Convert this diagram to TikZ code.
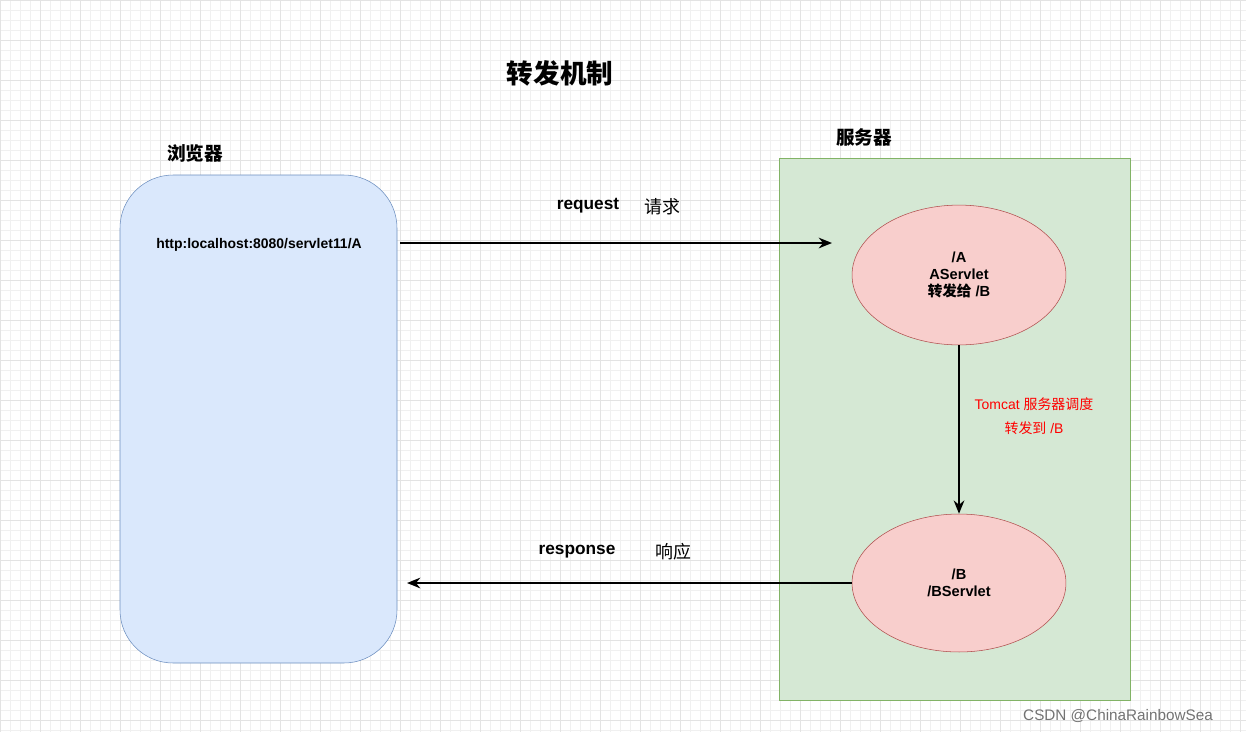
\documentclass[tikz,border=0pt]{standalone}
\usepackage{fontspec}
\setmainfont{Liberation Sans}
\newfontfamily\cjk{Noto Sans CJK SC}
\usetikzlibrary{arrows.meta,shapes.geometric}
\begin{document}
\begin{tikzpicture}[x=0.0264583cm,y=-0.0264583cm,
  arr/.style={line width=1.6pt,-{Stealth[length=10pt,width=8pt]}},
  ell/.style={ellipse,draw=red!55!black!70,fill={rgb,255:red,248;green,206;blue,204},minimum width=214\pgfkeysvalueof{/pgf/x}*0+5.66cm,minimum height=3.7cm,align=center,font=\bfseries\fontsize{11}{13}\selectfont,inner sep=0pt},
  lbl/.style={font=\bfseries\fontsize{13}{15}\selectfont}]
\useasboundingbox (0,0) rectangle (1246,732);
\fill[white] (0,0) rectangle (1246,732);
\foreach \i in {0,10,...,1246} \draw[black!6,line width=0.4pt] (\i,0) -- (\i,732);
\foreach \j in {0,10,...,732} \draw[black!6,line width=0.4pt] (0,\j) -- (1246,\j);
\foreach \i in {0,40,...,1246} \draw[black!11,line width=0.5pt] (\i,0) -- (\i,732);
\foreach \j in {0,40,...,732} \draw[black!11,line width=0.5pt] (0,\j) -- (1246,\j);
\node[font=\cjk\bfseries\fontsize{20}{24}\selectfont] (title) at (560,73) {转发机制};
\node[font=\cjk\bfseries\fontsize{14}{16}\selectfont] (bl) at (195,153) {浏览器};
\node[font=\cjk\bfseries\fontsize{14}{16}\selectfont] (sl) at (864,137) {服务器};
\draw[draw={rgb,255:red,108;green,142;blue,191},fill={rgb,255:red,218;green,232;blue,252},rounded corners=40] (120,175) rectangle (397,663);
\draw[draw={rgb,255:red,130;green,179;blue,102},fill={rgb,255:red,213;green,232;blue,212}] (779,158) rectangle (1130,700);
\node[font=\bfseries\fontsize{10.5}{12}\selectfont] (url) at (259,245) {http:localhost:8080/servlet11/A};
\node[ell,minimum width=5.66cm,minimum height=3.7cm] (A) at (959,275) {/A\\AServlet\\{\cjk 转发给} /B};
\node[ell,minimum width=5.66cm,minimum height=3.65cm] (B) at (959,583) {/B\\/BServlet};
\coordinate (u) at (400,243);
\coordinate (ae) at (832,243);
\coordinate (re) at (407,583);
\draw[arr] (u) -- (ae);
\draw[arr] (A) -- (B);
\draw[arr] (B.west) -- (re);
\node[lbl] (rq) at (588,206) {request};
\node[font=\cjk\fontsize{13.5}{15}\selectfont] (rqc) at (662,207) {请求};
\node[lbl] (rs) at (577,552) {response};
\node[font=\cjk\fontsize{13.5}{15}\selectfont] (rsc) at (673,552) {响应};
\node[red,font=\fontsize{10.5}{12}\selectfont] (t1) at (1034,404) {Tomcat {\cjk 服务器调度}};
\node[red,font=\fontsize{10.5}{12}\selectfont] (t2) at (1034,428) {{\cjk 转发到} /B};
\node[black!55,font=\fontsize{11.5}{13}\selectfont] (wm) at (1118,716) {CSDN @ChinaRainbowSea};
\end{tikzpicture}
\end{document}
